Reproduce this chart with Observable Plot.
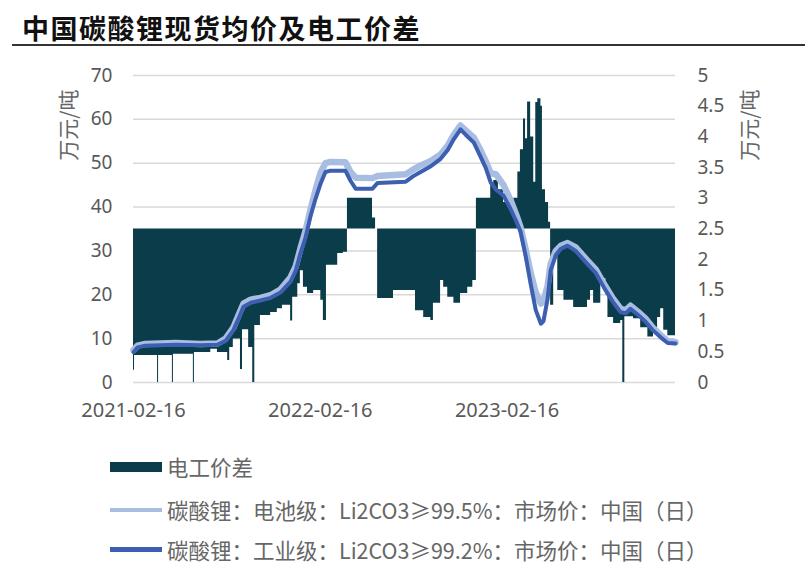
<!DOCTYPE html>
<html>
<head>
<meta charset="utf-8">
<script src="https://cdn.jsdelivr.net/npm/d3@7"></script>
<script src="https://cdn.jsdelivr.net/npm/@observablehq/plot@0.6"></script>
<style>
  body { margin: 0; background: #fff; width: 810px; height: 578px; overflow: hidden; position: relative; font-family: "Noto Sans CJK SC", "Noto Sans", sans-serif; }
  #title { position: absolute; left: 22px; top: 8px; font-size: 27px; font-weight: 700; color: #111; letter-spacing: 1.5px; }
  #rule { position: absolute; left: 12px; top: 44px; width: 793px; height: 2px; background: #333; }
  #chart { position: absolute; left: 0; top: 40px; }
  .ylab { position: absolute; font-size: 21px; color: #666; transform: rotate(-90deg); transform-origin: center center; white-space: nowrap; width: 90px; text-align: center; height: 24px; line-height: 24px; }
  .leg { position: absolute; left: 110px; font-size: 21.5px; color: #666; white-space: nowrap; display: flex; align-items: center; }
  .leg .sw { width: 52px; margin-right: 5px; }
</style>
</head>
<body>
<div id="title">中国碳酸锂现货均价及电工价差</div>
<div id="rule"></div>
<div id="chart"></div>
<div class="ylab" style="left:22px; top:113px;">万元/吨</div>
<div class="ylab" style="left:703px; top:113px;">万元/吨</div>
<div class="leg" style="top:451px;"><div class="sw" style="height:10px;background:#0b3c49;"></div>电工价差</div>
<div class="leg" style="top:494px;"><div class="sw" style="height:4px;background:#a8bde1;"></div>碳酸锂：电池级：Li2CO3≥99.5%：市场价：中国（日）</div>
<div class="leg" style="top:534px;"><div class="sw" style="height:5px;background:#3c5fb1;"></div>碳酸锂：工业级：Li2CO3≥99.2%：市场价：中国（日）</div>
<script>
// ---- data (万元/吨) ----
const lineDates = ["2021-02-16","2021-02-24","2021-03-11","2021-05-09","2021-06-27","2021-07-30","2021-08-15","2021-08-30","2021-09-09","2021-09-19","2021-10-03","2021-10-22","2021-11-11","2021-11-30","2021-12-20","2021-12-30","2022-01-08","2022-01-18","2022-01-28","2022-02-07","2022-02-17","2022-02-26","2022-03-08","2022-04-06","2022-04-16","2022-04-26","2022-05-29","2022-06-08","2022-08-02","2022-08-16","2022-08-31","2022-09-20","2022-10-09","2022-10-23","2022-11-04","2022-11-17","2022-11-27","2022-12-13","2022-12-26","2023-01-05","2023-01-15","2023-01-25","2023-02-09","2023-02-23","2023-03-05","2023-03-14","2023-03-24","2023-04-03","2023-04-13","2023-04-23","2023-04-28","2023-05-06","2023-05-12","2023-05-22","2023-06-01","2023-06-14","2023-06-30","2023-07-23","2023-08-08","2023-08-24","2023-09-10","2023-09-26","2023-10-06","2023-10-15","2023-10-29","2023-11-14","2023-11-27","2023-12-13","2023-12-27","2024-01-11"];
const batteryGrade = [7.4,8.4,8.8,9.0,8.8,8.9,10,12.5,15.3,18,18.9,19.3,19.9,21.2,24,26.5,30.5,34.5,39.5,44,48,50,50.3,50.2,48,46.7,46.6,47.1,47.5,48.5,49.5,50.5,52,54,56.5,58.6,57.5,55.8,53,50.5,47.7,47.5,45,41.5,38.5,35.5,30.5,25,20.5,18,18.5,22,27,30,31.2,31.8,30.8,27.8,25.8,22.5,19.3,16.8,16.5,17.5,16.2,14.5,12.6,10.8,9.4,9.2];
const industrialGrade = [6.9,8.0,8.4,8.6,8.5,8.6,9.5,11.9,14.5,17.3,18.2,18.7,19.3,20.5,23,25.5,29.4,33,38,42,45.5,48,48.3,48.3,46,44.2,44.2,45.5,45.8,47,48,49.3,51,53,55.5,57.7,56.5,54.7,51.5,49,45.6,44,42.6,39.5,37,34.5,29,22.5,16.5,13.4,14,19,25.5,29,30.5,31.2,30,27,25,21.7,18.5,16,15.8,16.8,15.5,13.8,12,10.3,9,8.9];

// 电工价差 (右轴)
const spreadDates = ["2021-02-16","2021-02-18","2021-04-04","2021-04-06","2021-05-03","2021-05-05","2021-06-13","2021-06-15","2021-07-17","2021-07-30","2021-08-19","2021-08-23","2021-08-30","2021-09-13","2021-09-17","2021-09-29","2021-10-07","2021-10-11","2021-10-22","2021-11-11","2021-11-24","2021-12-04","2021-12-20","2021-12-24","2022-01-03","2022-01-08","2022-01-14","2022-01-22","2022-02-03","2022-02-17","2022-02-22","2022-02-28","2022-03-22","2022-04-02","2022-04-10","2022-05-29","2022-06-04","2022-06-08","2022-07-09","2022-08-21","2022-09-06","2022-09-20","2022-09-25","2022-10-09","2022-10-15","2022-10-23","2022-11-04","2022-11-17","2022-12-01","2022-12-11","2022-12-18","2023-01-15","2023-01-21","2023-01-30","2023-02-09","2023-02-23","2023-03-01","2023-03-09","2023-03-14","2023-03-20","2023-03-24","2023-03-28","2023-04-03","2023-04-09","2023-04-13","2023-04-17","2023-04-23","2023-04-26","2023-05-02","2023-05-08","2023-05-12","2023-05-18","2023-05-26","2023-06-07","2023-06-26","2023-07-23","2023-07-29","2023-08-04","2023-08-18","2023-08-28","2023-09-01","2023-09-12","2023-09-26","2023-09-30","2023-10-04","2023-10-21","2023-11-04","2023-11-18","2023-11-29","2023-12-07","2023-12-13","2023-12-19","2023-12-27","2024-01-11"];
const spreadValues = [0.2,0.44,0,0.44,0,0.46,0,0.49,0.54,0.49,0.36,0.57,0.71,0.21,0.86,0.57,0,0.93,1.09,1.14,1.2,1.26,1.0,1.39,1.61,1.82,1.55,1.45,1.5,1.34,1.01,1.91,2.1,2.12,3.0,2.68,2.5,1.37,1.5,1.17,1.06,1.01,1.29,1.66,1.55,1.39,1.29,1.45,1.55,1.66,3.0,3.21,3.29,3.14,2.93,2.77,3.0,3.43,3.79,4.29,3.97,4.57,4.0,3.26,4.56,4.62,4.5,3.14,2.93,2.61,1.26,2.07,1.5,1.34,1.22,1.34,1.5,1.29,1.69,1.43,1.06,0.96,1.01,0,1.07,1.04,0.89,0.74,0.8,1.06,1.2,0.85,0.76,0.74];
const spreadBase = 2.5;

const xTickLabels = ["2021-02-16","2022-02-16","2023-02-16"];
const leftTicks = [0,10,20,30,40,50,60,70];
const rightTicks = [0,0.5,1,1.5,2,2.5,3,3.5,4,4.5,5];
const xStart = "2021-02-16", xEnd = "2024-01-11";

// ---- build ----
const ratio = 70 / 5; // left / right
const parse = s => new Date(s + "T00:00:00Z");
const lines = lineDates.map((d, i) => ({date: parse(d), battery: batteryGrade[i], industrial: industrialGrade[i]}));
const spread = spreadDates.map((d, i) => ({date: parse(d), v: spreadValues[i]}));

const chart = Plot.plot({
  width: 810,
  height: 382,
  marginLeft: 133,
  marginRight: 135,
  marginTop: 35,
  marginBottom: 40,
  style: {fontFamily: "'Noto Sans', 'Noto Sans CJK SC', sans-serif", fontSize: "19px", color: "#595959", background: "transparent"},
  x: {type: "utc", domain: [parse(xStart), parse(xEnd)]},
  y: {domain: [0, 70]},
  marks: [
    Plot.gridY(leftTicks, {stroke: "#d9d9d9", strokeOpacity: 1, strokeWidth: 1.5}),
    Plot.areaY(spread, {x: "date", y1: spreadBase * ratio, y2: d => d.v * ratio, fill: "#0b3c49", curve: "step-after"}),
    Plot.line(lines, {x: "date", y: "battery", stroke: "#a8bde1", strokeWidth: 6.5, strokeLinejoin: "round", strokeLinecap: "round"}),
    Plot.line(lines, {x: "date", y: "industrial", stroke: "#3c5fb1", strokeWidth: 4, strokeLinejoin: "round", strokeLinecap: "round"}),
    Plot.axisX(xTickLabels.map(parse), {tickSize: 0, tickPadding: 20, tickFormat: d3.utcFormat("%Y-%m-%d"), fontSize: 20, label: null}),
    Plot.axisY(leftTicks, {anchor: "left", tickSize: 0, tickPadding: 21, fontSize: 19, label: null}),
    Plot.axisY(rightTicks.map(v => v * ratio), {anchor: "right", tickSize: 0, tickPadding: 22, fontSize: 19, label: null, tickFormat: d => String(+(d / ratio).toFixed(1))})
  ]
});
document.getElementById("chart").appendChild(chart);
</script>
</body>
</html>
